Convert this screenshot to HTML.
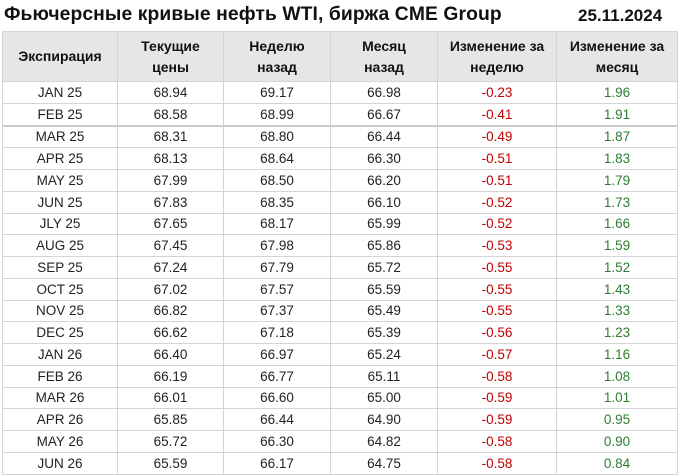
<!DOCTYPE html>
<html><head><meta charset="utf-8"><style>
body{margin:0;width:680px;height:476px;background:#fff;font-family:"Liberation Sans",Arial,sans-serif;overflow:hidden;position:relative}
.t{position:absolute;left:4px;top:4px;font-weight:bold;font-size:19.3px;color:#111;letter-spacing:0.1px}
.d{position:absolute;left:578px;top:6px;font-weight:bold;font-size:17px;color:#111}
table{position:absolute;left:2px;top:31px;border-collapse:collapse;table-layout:fixed}
td,th{border:1px solid #d4d4d4;text-align:center;padding:0;font-size:13.5px;color:#222}
th{background:#e6e6e6;height:49px;font-size:14px;line-height:21px;color:#111}
td{height:20.75px}
.r{color:#c00000}.g{color:#2e7d32}
tr.b td{border-bottom:2px solid #ccc}
</style></head><body>
<div class="t">Фьючерсные кривые нефть WTI, биржа CME Group</div>
<div class="d">25.11.2024</div>
<table>
<colgroup><col style="width:115px"><col style="width:106px"><col style="width:107px"><col style="width:107px"><col style="width:119px"><col style="width:121px"></colgroup>
<tr><th>Экспирация</th><th>Текущие<br>цены</th><th>Неделю<br>назад</th><th>Месяц<br>назад</th><th>Изменение за<br>неделю</th><th>Изменение за<br>месяц</th></tr>
<tr><td>JAN 25</td><td>68.94</td><td>69.17</td><td>66.98</td><td class="r">-0.23</td><td class="g">1.96</td></tr>
<tr class="b"><td>FEB 25</td><td>68.58</td><td>68.99</td><td>66.67</td><td class="r">-0.41</td><td class="g">1.91</td></tr>
<tr><td>MAR 25</td><td>68.31</td><td>68.80</td><td>66.44</td><td class="r">-0.49</td><td class="g">1.87</td></tr>
<tr><td>APR 25</td><td>68.13</td><td>68.64</td><td>66.30</td><td class="r">-0.51</td><td class="g">1.83</td></tr>
<tr><td>MAY 25</td><td>67.99</td><td>68.50</td><td>66.20</td><td class="r">-0.51</td><td class="g">1.79</td></tr>
<tr><td>JUN 25</td><td>67.83</td><td>68.35</td><td>66.10</td><td class="r">-0.52</td><td class="g">1.73</td></tr>
<tr><td>JLY 25</td><td>67.65</td><td>68.17</td><td>65.99</td><td class="r">-0.52</td><td class="g">1.66</td></tr>
<tr><td>AUG 25</td><td>67.45</td><td>67.98</td><td>65.86</td><td class="r">-0.53</td><td class="g">1.59</td></tr>
<tr><td>SEP 25</td><td>67.24</td><td>67.79</td><td>65.72</td><td class="r">-0.55</td><td class="g">1.52</td></tr>
<tr><td>OCT 25</td><td>67.02</td><td>67.57</td><td>65.59</td><td class="r">-0.55</td><td class="g">1.43</td></tr>
<tr><td>NOV 25</td><td>66.82</td><td>67.37</td><td>65.49</td><td class="r">-0.55</td><td class="g">1.33</td></tr>
<tr><td>DEC 25</td><td>66.62</td><td>67.18</td><td>65.39</td><td class="r">-0.56</td><td class="g">1.23</td></tr>
<tr><td>JAN 26</td><td>66.40</td><td>66.97</td><td>65.24</td><td class="r">-0.57</td><td class="g">1.16</td></tr>
<tr><td>FEB 26</td><td>66.19</td><td>66.77</td><td>65.11</td><td class="r">-0.58</td><td class="g">1.08</td></tr>
<tr><td>MAR 26</td><td>66.01</td><td>66.60</td><td>65.00</td><td class="r">-0.59</td><td class="g">1.01</td></tr>
<tr><td>APR 26</td><td>65.85</td><td>66.44</td><td>64.90</td><td class="r">-0.59</td><td class="g">0.95</td></tr>
<tr><td>MAY 26</td><td>65.72</td><td>66.30</td><td>64.82</td><td class="r">-0.58</td><td class="g">0.90</td></tr>
<tr><td>JUN 26</td><td>65.59</td><td>66.17</td><td>64.75</td><td class="r">-0.58</td><td class="g">0.84</td></tr>
</table>
</body></html>
